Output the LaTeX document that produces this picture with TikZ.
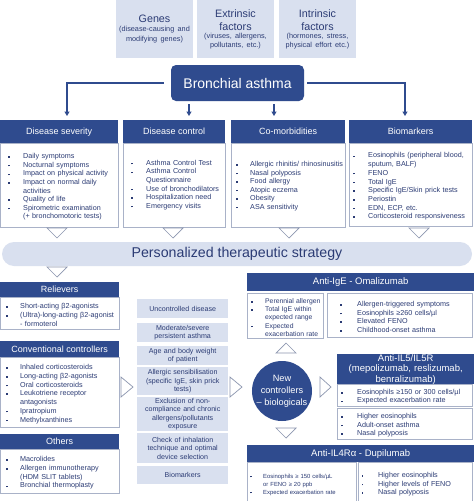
\documentclass[tikz,border=0pt]{standalone}
\usepackage{fontspec}
\setmainfont{Liberation Sans}
\usetikzlibrary{arrows.meta}
\definecolor{dblue}{HTML}{2F4B8E}
\definecolor{lblue}{HTML}{D9E0EF}
\definecolor{txtb}{HTML}{2B3B74}
\definecolor{bord}{HTML}{A9B2C8}
\definecolor{trig}{HTML}{8C96AF}
\newlength\lind
\newcommand\myfs[2]{\fontsize{#1}{#2}\selectfont}
\newcommand\itm[1]{\par\noindent\hangindent=\lind\hangafter=1\makebox[\lind][l]{\rule[0.25ex]{1.5pt}{1.5pt}}#1}
\begin{document}
\begin{tikzpicture}[x=1pt,y=-1pt,
  every node/.style={inner sep=0pt},
  topbox/.style={fill=lblue, text=txtb, minimum width=77pt, minimum height=58pt, text width=75pt, align=center},
  hdr/.style={fill=dblue, text=white, anchor=north west, font=\myfs{9}{11}},
  bodybox/.style={draw=bord, line width=0.6pt, fill=white, anchor=north west},
  lst/.style={anchor=west, align=left, text=txtb, text width=140pt, font=\myfs{7.2}{8.6}},
  midbox/.style={fill=lblue, text=txtb, minimum width=91pt, text width=89pt, align=center, font=\myfs{7.1}{8.5}, anchor=north west},
  tri/.style={draw=trig, fill=white, line width=0.7pt},
  conn/.style={draw=dblue, line width=1.2pt, -{Triangle[length=4.5pt,width=5pt]}}]
\fill[white] (0,0) rectangle (474,501);
\useasboundingbox (0,0) rectangle (474,501);

% top factor boxes
\node[topbox] (genes) at (154.5,29) {{\myfs{10.75}{13}Genes\par}{\myfs{7.3}{9.5}(disease-causing and\\modifying genes)\par}};
\node[topbox] (extr) at (235.5,29) {{\myfs{10.75}{13}Extrinsic\\factors\par}{\myfs{7.3}{8.5}(viruses, allergens,\\pollutants, etc.)\par}};
\node[topbox] (intr) at (317.5,29) {{\myfs{10.75}{13}Intrinsic\\factors\par}{\myfs{7.3}{8.5}(hormones, stress,\\physical effort etc.)\par}};

% central node
\node[fill=dblue, text=white, rounded corners=5pt, minimum width=133pt, minimum height=36pt, font=\myfs{14}{16}] (ba) at (237.5,83) {Bronchial asthma};

\coordinate (e1) at (67,116);
\coordinate (e2) at (189,116);
\coordinate (e3) at (274,116);
\coordinate (e4) at (405,116);
\draw[conn, shorten <=7pt] (ba.west) -| (e1);
\draw[conn, shorten <=3pt] (ba.east) -| (e4);
\draw[conn, shorten <=3pt] (e2 |- ba.south) -- (e2);
\draw[conn, shorten <=3pt] (e3 |- ba.south) -- (e3);

% category boxes
\node[bodybox, minimum width=118pt, minimum height=84pt] (sevb) at (0,143) {};
\node[hdr, minimum width=118pt, minimum height=23pt] (sevh) at (0,120) {Disease severity};
\node[lst] (sevt) at ([xshift=8pt]sevb.west) {\setlength\lind{15pt}\itm{Daily symptoms}\itm{Nocturnal symptoms}\itm{Impact on physical activity}\itm{Impact on normal daily\newline activities}\itm{Quality of life}\itm{Spirometric examination\newline (+ bronchomotoric tests)}\par};

\node[bodybox, minimum width=102pt, minimum height=84pt] (conb) at (123,143) {};
\node[hdr, minimum width=102pt, minimum height=23pt] (conh) at (123,120) {Disease control};
\node[lst] (cont) at ([xshift=8pt,yshift=2pt]conb.west) {\setlength\lind{15pt}\itm{Asthma Control Test}\itm{Asthma Control\newline Questionnaire}\itm{Use of bronchodilators}\itm{Hospitalization need}\itm{Emergency visits}\par};

\node[bodybox, minimum width=114pt, minimum height=84pt] (comb) at (231,143) {};
\node[hdr, minimum width=114pt, minimum height=23pt] (comh) at (231,120) {Co-morbidities};
\node[lst, font=\myfs{7.2}{8.5}] (comt) at ([xshift=5pt,yshift=1pt]comb.west) {\setlength\lind{14pt}\itm{Allergic rhinitis/ rhinosinusitis}\itm{Nasal polyposis}\itm{Food allergy}\itm{Atopic eczema}\itm{Obesity}\itm{ASA sensitivity}\par};

\node[bodybox, minimum width=123pt, minimum height=83pt] (bmb) at (349,143) {};
\node[hdr, minimum width=123pt, minimum height=23pt] (bmh) at (349,120) {Biomarkers};
\node[lst, font=\myfs{7.2}{8.7}] (bmt) at ([xshift=4pt]bmb.west) {\setlength\lind{15pt}\itm{Eosinophils (peripheral blood,\newline sputum, BALF)}\itm{FENO}\itm{Total IgE}\itm{Specific IgE/Skin prick tests}\itm{Periostin}\itm{EDN, ECP, etc.}\itm{Corticosteroid responsiveness}\par};

% triangles below category boxes
\draw[tri] (47,228) -- (67,228) -- (57,238) -- cycle;
\draw[tri] (163,228) -- (183,228) -- (173,238) -- cycle;
\draw[tri] (279,228) -- (299,228) -- (289,238) -- cycle;
\draw[tri] (409,228) -- (429,228) -- (419,238) -- cycle;

% strategy bar
\node[fill=lblue, rounded corners=12pt, minimum width=470pt, minimum height=24pt, text=txtb, font=\myfs{14.2}{16}] (pts) at (237,254) {Personalized therapeutic strategy};
\draw[tri] (47,267) -- (67,267) -- (57,277) -- cycle;

% left column
\node[bodybox, minimum width=119pt, minimum height=32pt] (relb) at (0,297) {};
\node[hdr, minimum width=119pt, minimum height=15pt] (relh) at (0,282) {Relievers};
\node[lst, font=\myfs{7.2}{8.7}] (relt) at ([xshift=6pt]relb.west) {\setlength\lind{14pt}\itm{Short-acting β2-agonists}\itm{(Ultra)-long-acting β2-agonist\newline - formoterol}\par};

\node[bodybox, minimum width=119pt, minimum height=70pt] (ccb) at (0,357) {};
\node[hdr, minimum width=119pt, minimum height=16pt] (cch) at (0,341) {Conventional controllers};
\node[lst, font=\myfs{7.2}{8.7}] (cct) at ([xshift=6pt]ccb.west) {\setlength\lind{14pt}\itm{Inhaled corticosteroids}\itm{Long-acting β2-agonists}\itm{Oral corticosteroids}\itm{Leukotriene receptor\newline antagonists}\itm{Ipratropium}\itm{Methylxanthines}\par};

\node[bodybox, minimum width=119pt, minimum height=44pt] (othb) at (0,449) {};
\node[hdr, minimum width=119pt, minimum height=15pt] (othh) at (0,434) {Others};
\node[lst, font=\myfs{7.2}{8.7}] (otht) at ([xshift=6pt]othb.west) {\setlength\lind{14pt}\itm{Macrolides}\itm{Allergen immunotherapy\newline (HDM SLIT tablets)}\itm{Bronchial thermoplasty}\par};

\draw[tri] (121,377) -- (133,387) -- (121,397) -- cycle;

% middle column
\node[midbox, minimum height=19pt] (m1) at (137,299) {Uncontrolled disease};
\node[midbox, minimum height=19pt] (m2) at (137,323) {Moderate/severe\\persistent asthma};
\node[midbox, minimum height=19pt] (m3) at (137,346) {Age and body weight\\of patient};
\node[midbox, minimum height=28pt] (m4) at (137,367) {Allergic sensibilisation\\(specific IgE, skin prick\\tests)};
\node[midbox, minimum height=34pt] (m5) at (137,397) {Exclusion of non-\\compliance and chronic\\allergens/pollutants\\exposure};
\node[midbox, minimum height=30pt] (m6) at (137,433) {Check of inhalation\\technique and optimal\\device selection};
\node[midbox, minimum height=18pt] (m7) at (137,466) {Biomarkers};

\draw[tri] (230,377) -- (242,387) -- (230,397) -- cycle;

% new controllers circle
\node[circle, fill=dblue, text=white, minimum size=60pt, align=center, font=\myfs{9.2}{12}] (newc) at (282,391) {New\\controllers\\– biologicals};
\draw[tri] (276,353) -- (296,353) -- (286,343) -- cycle;
\draw[tri] (276,428) -- (296,428) -- (286,438) -- cycle;
\draw[tri] (320,377) -- (331,387) -- (320,397) -- cycle;

% Anti-IgE
\node[hdr, minimum width=227pt, minimum height=18pt, font=\myfs{9.5}{11}] (igeh) at (247,273) {Anti-IgE - Omalizumab};
\node[bodybox, minimum width=76pt, minimum height=45pt] (igel) at (247,293) {};
\node[lst, font=\myfs{6.8}{8.2}] (igelt) at ([xshift=4pt]igel.west) {\setlength\lind{14pt}\itm{Perennial allergen}\itm{Total IgE within\newline expected range}\itm{Expected\newline exacerbation rate}\par};
\node[bodybox, minimum width=145pt, minimum height=44pt] (iger) at (327,293) {};
\node[lst, font=\myfs{7.2}{8.6}] (igert) at ([xshift=13pt]iger.west) {\setlength\lind{17pt}\itm{Allergen-triggered symptoms}\itm{Eosinophils ≥260 cells/µl}\itm{Elevated FENO}\itm{Childhood-onset asthma}\par};

% Anti-IL5
\node[hdr, minimum width=137pt, minimum height=29pt, text width=135pt, align=center, font=\myfs{9.5}{10.5}] (il5h) at (337,354) {Anti-IL5/IL5R\\(mepolizumab, reslizumab,\\benralizumab)};
\node[bodybox, minimum width=135pt, minimum height=22pt] (il5a) at (337,384) {};
\node[lst, font=\myfs{7.2}{8.4}] (il5at) at ([xshift=4pt]il5a.west) {\setlength\lind{16pt}\itm{Eosinophils ≥150 or 300 cells/µl}\itm{Expected exacerbation rate}\par};
\node[bodybox, minimum width=135pt, minimum height=31pt] (il5b) at (337,408) {};
\node[lst, font=\myfs{7.2}{8.3}] (il5bt) at ([xshift=4pt]il5b.west) {\setlength\lind{16pt}\itm{Higher eosinophils}\itm{Adult-onset asthma}\itm{Nasal polyposis}\par};

% Anti-IL4Ra
\node[hdr, minimum width=227pt, minimum height=17pt, font=\myfs{9.5}{11}] (il4h) at (247,445) {Anti-IL4Rα - Dupilumab};
\node[bodybox, minimum width=109pt, minimum height=41pt] (il4l) at (247,462) {};
\node[lst, font=\myfs{5.9}{8}] (il4lt) at ([xshift=3pt]il4l.west) {\setlength\lind{13pt}\itm{Eosinophils ≥ 150 cells/µL\newline or FENO ≥ 20 ppb}\itm{Expected exacerbation rate}\par};
\node[bodybox, minimum width=114pt, minimum height=41pt] (il4r) at (358,462) {};
\node[lst, font=\myfs{7.2}{8.3}] (il4rt) at ([xshift=3.5pt]il4r.west) {\setlength\lind{16.5pt}\itm{Higher eosinophils}\itm{Higher levels of FENO}\itm{Nasal polyposis}\par};
\end{tikzpicture}
\end{document}
